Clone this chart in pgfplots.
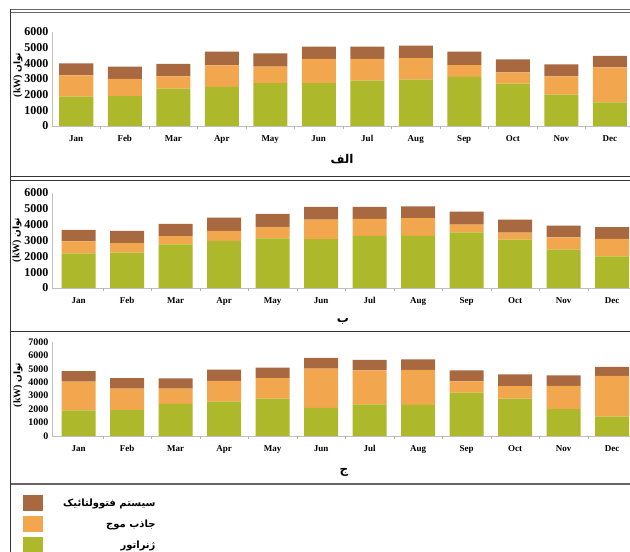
\documentclass[border=0pt]{standalone}
\usepackage{pgfplots}
\pgfplotsset{compat=1.18}
\usepackage{pgfplotstable}
\usepackage{fontspec}
\setmainfont{Liberation Serif}
\newfontfamily\arabicfont[Script=Arabic]{DejaVu Sans}
\TeXXeTstate=1
\definecolor{pvc}{HTML}{A86940}
\definecolor{wavec}{HTML}{F2A64E}
\definecolor{genc}{HTML}{ADB92A}

\pgfplotstableread{
x g w p
0 1870 1360 770
1 1910 1090 790
2 2380 790 790
3 2490 1380 870
4 2740 1050 850
5 2740 1540 780
6 2890 1390 780
7 2960 1380 790
8 3130 760 850
9 2700 730 830
10 2000 1170 770
11 1510 2230 730
}\tA
\pgfplotstableread{
x g w p
0 2180 760 730
1 2240 590 780
2 2750 520 780
3 2980 630 830
4 3140 720 820
5 3080 1240 800
6 3290 1070 760
7 3290 1130 740
8 3520 480 820
9 3060 440 820
10 2430 760 750
11 1990 1110 740
}\tB
\pgfplotstableread{
x g w p
0 1900 2140 790
1 1950 1570 790
2 2390 1130 770
3 2560 1550 840
4 2780 1530 790
5 2090 2930 790
6 2360 2520 790
7 2320 2610 780
8 3230 830 820
9 2780 940 860
10 2000 1740 770
11 1450 3030 670
}\tC

\pgfplotsset{
 panel/.style={
  scale only axis, anchor=south west, width=582pt,
  ybar stacked, bar width=34pt,
  axis x line*=bottom, axis y line*=left,
  axis line style={draw=black!25},
  xtick={0,...,11},
  xticklabels={Jan,Feb,Mar,Apr,May,Jun,Jul,Aug,Sep,Oct,Nov,Dec},
  major tick length=0pt,
  extra x ticks={0.5,1.5,...,10.5}, extra x tick labels={},
  extra x tick style={major tick length=3pt, tick align=outside, tick style={black!30}},
  ymin=0, ytick distance=1000,
  xticklabel style={font=\bfseries\fontsize{9}{10}\selectfont, yshift=-6pt},
  yticklabel style={font=\bfseries\fontsize{12}{12}\selectfont},
  /pgf/number format/assume math mode=true, /pgf/number format/1000 sep={},
  clip=false,
 },
 gen/.style={fill=genc, draw=none},
 wav/.style={fill=wavec, draw=none},
 pv/.style={fill=pvc, draw=none},
}

\begin{document}
\begin{tikzpicture}[x=1pt,y=1pt]
\useasboundingbox (0,0) rectangle (630,552);
\clip (0,0) rectangle (630,552);

% frames
\draw[black!60, line width=0.9pt] (10,542.2) -- (640,542.2);
\draw[black!60, line width=0.9pt] (10,539.6) -- (640,539.6);
\draw[black!80, line width=1pt] (10,375) -- (640,375);
\draw[black!80, line width=1pt] (10,371) -- (640,371);
\draw[black!80, line width=1.5pt] (10,220.5) -- (640,220.5);
\draw[black!60, line width=1.5pt] (10,68) -- (640,68);
\draw[black!80, line width=1pt] (10,542.5) -- (10,0);

% panel 1
\begin{axis}[panel, at={(52pt,426pt)}, height=94pt, xmin=-0.5, xmax=11.5, ymax=6000]
\addplot[gen] table[x=x,y=g]{\tA};
\addplot[wav] table[x=x,y=w]{\tA};
\addplot[pv] table[x=x,y=p]{\tA};
\end{axis}

% panel 2
\begin{axis}[panel, at={(52pt,264pt)}, height=95pt, xmin=-0.55, xmax=11.45, ymax=6000]
\addplot[gen] table[x=x,y=g]{\tB};
\addplot[wav] table[x=x,y=w]{\tB};
\addplot[pv] table[x=x,y=p]{\tB};
\end{axis}

% panel 3
\begin{axis}[panel, at={(52pt,116pt)}, height=94pt, xmin=-0.55, xmax=11.45, ymax=7000,
  yticklabel style={font=\bfseries\fontsize{10}{10}\selectfont},
  reverse legend,
  legend style={at={(axis description cs:-0.0498,-0.628)}, anchor=north west,
    draw=none, fill=none, inner sep=0pt, row sep=5pt, column sep=18pt,
    font=\fontsize{10}{10}\selectfont},
  legend cell align=right,
  legend image code/.code={\fill[#1] (0pt,-8pt) rectangle (20pt,8pt);},
]
\addplot[gen] table[x=x,y=g]{\tC};
\addplot[wav] table[x=x,y=w]{\tC};
\addplot[pv] table[x=x,y=p]{\tC};
\legend{{\arabicfont\bfseries\beginR ژنراتور\endR},{\arabicfont\bfseries\beginR جاذب موج\endR},{\arabicfont\bfseries\beginR سیستم فتوولتائیک\endR}}
\end{axis}

% panel letters
\node[font=\arabicfont\bfseries\fontsize{12}{12}\selectfont] at (342,393) {\beginR الف\endR};
\node[font=\arabicfont\bfseries\fontsize{12}{12}\selectfont] at (343,231) {\beginR ب\endR};
\node[font=\arabicfont\bfseries\fontsize{12}{12}\selectfont] at (344,80) {\beginR ج\endR};

% y labels
\node[rotate=90, font=\bfseries\fontsize{10}{10}\selectfont] at (18,477) {(kW) {\arabicfont\fontsize{9}{9}\selectfont\beginR توان\endR}};
\node[rotate=90, font=\bfseries\fontsize{10}{10}\selectfont] at (17,312) {(kW) {\arabicfont\fontsize{9}{9}\selectfont\beginR توان\endR}};
\node[rotate=90, font=\bfseries\fontsize{10}{10}\selectfont] at (18,167) {(kW) {\arabicfont\fontsize{9}{9}\selectfont\beginR توان\endR}};
\end{tikzpicture}
\end{document}
